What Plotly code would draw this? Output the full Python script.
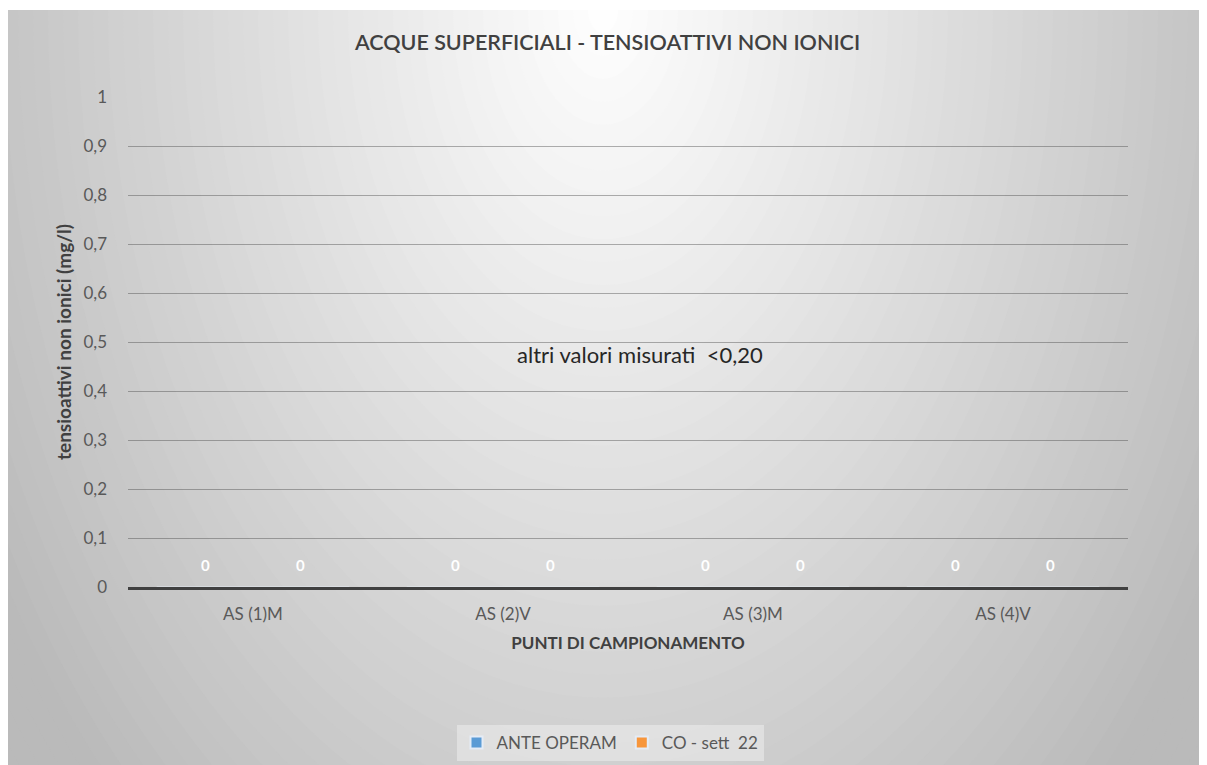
import plotly.graph_objects as go

# dati
punti = ["AS (1)M", "AS (2)V", "AS (3)M", "AS (4)V"]
ante_operam = [0, 0, 0, 0]
co_sett22 = [0, 0, 0, 0]
tick_vals = [0, 0.1, 0.2, 0.3, 0.4, 0.5, 0.6, 0.7, 0.8, 0.9, 1]

# la pagina html ha 8px di margine: lavoro in pixel della figura
OFF = 8
W, H = 1207 - OFF, 765 - OFF
L, T = 128 - OFF, 97 - OFF
R, B = W - (1128 - OFF), H - (587 - OFF)
font = "Lato"


def px_x(p):
    return (p - OFF - L) / (W - L - R)


def px_y(p):
    return (H - B - (p - OFF)) / (H - T - B)


fig = go.Figure()
fig.add_trace(go.Bar(x=punti, y=ante_operam, name="ANTE OPERAM", marker_color="#5B9BD5"))
fig.add_trace(go.Bar(x=punti, y=co_sett22, name="CO - sett  22", marker_color="#F7963C"))

# etichette dei valori (bianche, sopra la base delle barre)
annotations = []
for serie, dx in ((ante_operam, -48), (co_sett22, 47)):
    for cat, v in zip(punti, serie):
        annotations.append(dict(x=cat, y=v, xref="x", yref="y", text=str(v), showarrow=False,
                                xshift=dx, yshift=22,
                                font=dict(color="white", size=15, family=font, weight="bold")))
annotations.append(dict(text="altri valori misurati  <0,20", x=px_x(640), y=px_y(354),
                        xref="paper", yref="paper", showarrow=False,
                        font=dict(size=22, color="#262626", family=font)))

# sfondo sfumato (radiale dall'alto al centro)
shapes = []
n = 60
cx, cy = 603, 10
rx, ry = 720, 1100
base, top = 186, 255
for i in range(n):
    k = 1.25 * (1 - i / n)
    g = int(round(base + (top - base) * min(1, max(0, 1 - k))))
    shapes.append(dict(type="circle", xref="paper", yref="paper", layer="below",
                       x0=px_x(cx - k * rx), x1=px_x(cx + k * rx),
                       y0=px_y(cy + k * ry), y1=px_y(cy - k * ry),
                       fillcolor=f"rgb({g},{g},{g})", line_width=0))
shapes.append(dict(type="rect", xref="paper", yref="paper", layer="below",
                   x0=px_x(-20), x1=px_x(1230), y0=px_y(10), y1=px_y(-20),
                   fillcolor="white", line_width=0))

fig.update_layout(
    width=W, height=H,
    margin=dict(l=L, r=R, t=T, b=B, autoexpand=False),
    paper_bgcolor="white", plot_bgcolor="rgba(0,0,0,0)",
    shapes=shapes,
    annotations=annotations,
    separators=",.",
    barmode="group", bargap=0.23, bargroupgap=0,
    font=dict(family=font, color="#595959", size=17),
    title=dict(text="ACQUE SUPERFICIALI - TENSIOATTIVI NON IONICI", x=0.5, xanchor="center",
               y=1 - (42 - OFF) / H, yanchor="middle",
               font=dict(size=21.5, color="#404040", family=font, weight=600)),
    xaxis=dict(showgrid=False, ticks="", ticklabelstandoff=10,
               showline=True, linecolor="#404040", linewidth=2.5, layer="above traces",
               title=dict(text="PUNTI DI CAMPIONAMENTO", standoff=14,
                          font=dict(size=17, color="#404040", weight="bold"))),
    yaxis=dict(range=[0, 1], tickvals=tick_vals, showgrid=True,
               gridcolor="rgba(70,70,70,0.42)", gridwidth=1.4, zeroline=False,
               ticks="", ticklabelstandoff=20,
               title=dict(text="tensioattivi non ionici (mg/l)", standoff=6,
                          font=dict(size=19, color="#404040", weight="bold"))),
    legend=dict(orientation="h", x=px_x(610), xanchor="center", y=px_y(743), yanchor="middle",
                bgcolor="rgba(235,235,235,0.6)", font=dict(size=17, color="#595959"),
                itemsizing="constant", itemwidth=30, traceorder="normal"),
)

fig.write_html("out.html")
